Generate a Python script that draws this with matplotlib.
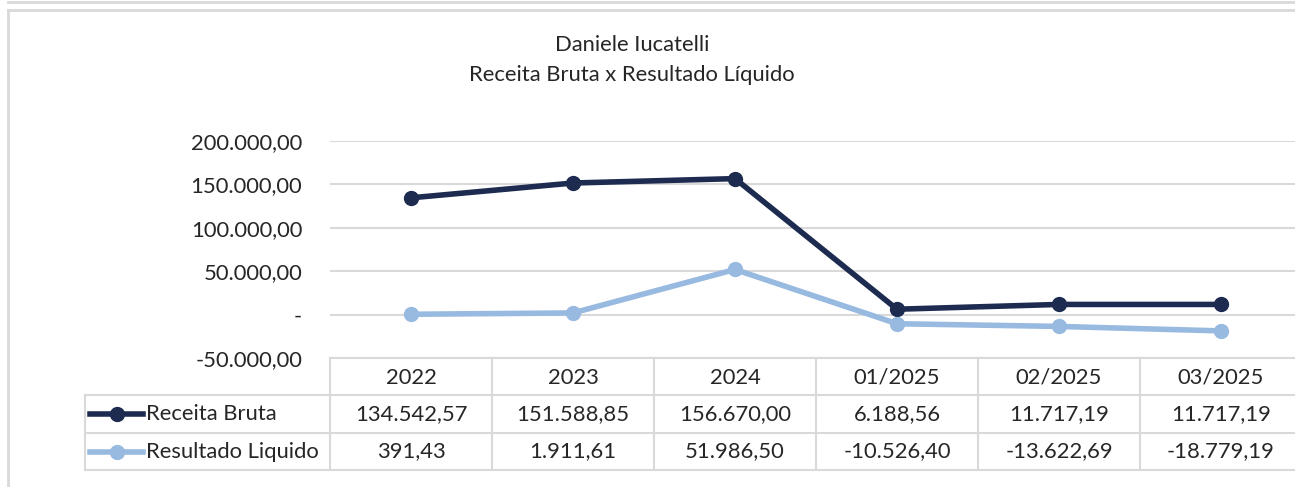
import matplotlib
matplotlib.use("Agg")
import matplotlib.pyplot as plt
import matplotlib.transforms as mtransforms
from matplotlib.lines import Line2D

plt.rcParams['font.family'] = ['Lato', 'DejaVu Sans']

# Data
periods = ["2022", "2023", "2024", "01/2025", "02/2025", "03/2025"]
receita_bruta = [134542.57, 151588.85, 156670.00, 6188.56, 11717.19, 11717.19]
resultado_liquido = [391.43, 1911.61, 51986.50, -10526.40, -13622.69, -18779.19]
series_names = ["Receita Bruta", "Resultado Liquido"]
y_ticks = [-50000, 0, 50000, 100000, 150000, 200000]

DARK = "#1c2b4f"
LIGHT = "#98b9e0"
GRID = "#d9d9d9"
TXT = "#262626"
FS = 15.8

W, H = 1295, 487


def br(v):
    s = f"{v:,.2f}"
    return s.replace(",", "X").replace(".", ",").replace("X", ".")


def fy(py):
    # pixel from top -> figure fraction
    return 1 - py / H


fig = plt.figure(figsize=(W / 100, H / 100), dpi=100)

# outer chart frame (Excel style)
fig.add_artist(Line2D([8 / W, 8 / W], [fy(10), 0], transform=fig.transFigure, color=GRID, lw=2))
fig.add_artist(Line2D([8 / W, 1], [fy(10), fy(10)], transform=fig.transFigure, color=GRID, lw=2))
fig.add_artist(Line2D([8 / W, 1], [fy(1.5), fy(1.5)], transform=fig.transFigure, color=GRID, lw=2))

# plot area
x0, x1 = 330, 1302
y_top, y_bot = 141, 358
ax = fig.add_axes([x0 / W, fy(y_bot), (x1 - x0) / W, (y_bot - y_top) / H])
ax.set_xlim(-0.5, len(periods) - 0.5)
ax.set_ylim(-50000, 200000)

for s in ax.spines.values():
    s.set_visible(False)
ax.set_xticks([])
ax.set_yticks(y_ticks)
ax.set_yticklabels(["-" if t == 0 else br(t) for t in y_ticks])
ax.tick_params(axis="y", length=0, pad=20, labelsize=FS, labelcolor=TXT)
ax.yaxis.grid(True, color=GRID, lw=1.5)
ax.set_axisbelow(True)

x = list(range(len(periods)))
ax.plot(x, receita_bruta, color=DARK, lw=4, marker="o", ms=10, zorder=3, clip_on=False)
ax.plot(x, resultado_liquido, color=LIGHT, lw=4, marker="o", ms=10, zorder=3, clip_on=False)

# title
fig.text(632 / W, fy(45), "Daniele Iucatelli", ha="center", va="center", fontsize=FS, color=TXT)
fig.text(632 / W, fy(75), "Receita Bruta x Resultado Líquido", ha="center", va="center",
         fontsize=FS, color=TXT)

# data table
bt = mtransforms.blended_transform_factory(ax.transData, fig.transFigure)
row_lines = [358, 395, 433, 470]
xl = -0.5
x_label_left = xl - (x0 - 85) / ((x1 - x0) / len(periods))

# horizontal lines
fig.add_artist(Line2D([xl, len(periods) + 0.5], [fy(358), fy(358)], transform=bt, color=GRID, lw=1.5))
for py in row_lines[1:]:
    fig.add_artist(Line2D([x_label_left, len(periods) + 0.5], [fy(py), fy(py)], transform=bt,
                          color=GRID, lw=1.5))
# vertical lines
fig.add_artist(Line2D([x_label_left, x_label_left], [fy(395), fy(470)], transform=bt, color=GRID, lw=1.5))
for i in range(len(periods) + 1):
    fig.add_artist(Line2D([i - 0.5, i - 0.5], [fy(358), fy(470)], transform=bt, color=GRID, lw=1.5))

row_centers = [(358 + 395) / 2 + 1, (395 + 433) / 2, (433 + 470) / 2]
for i, p in enumerate(periods):
    fig.text(i, fy(row_centers[0]), p, transform=bt, ha="center", va="center", fontsize=FS, color=TXT)
    fig.text(i, fy(row_centers[1]), br(receita_bruta[i]), transform=bt, ha="center", va="center",
             fontsize=FS, color=TXT)
    fig.text(i, fy(row_centers[2]), br(resultado_liquido[i]), transform=bt, ha="center", va="center",
             fontsize=FS, color=TXT)

# legend keys
for name, col, rc in zip(series_names, [DARK, LIGHT], row_centers[1:]):
    fig.add_artist(Line2D([90 / W, 143 / W], [fy(rc), fy(rc)], transform=fig.transFigure, color=col, lw=4))
    fig.add_artist(Line2D([116.5 / W], [fy(rc)], transform=fig.transFigure, color=col, marker="o", ms=10))
    fig.text(146 / W, fy(rc), name, ha="left", va="center", fontsize=FS, color=TXT)

fig.savefig("out.png", dpi=100)
